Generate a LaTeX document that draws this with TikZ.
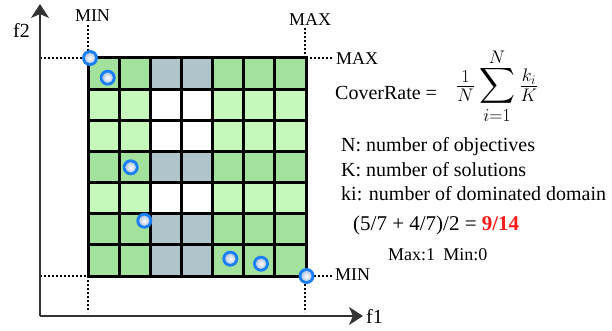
\RequirePackage{fix-cm}
\documentclass[tikz,border=0pt]{standalone}
\usepackage{exscale}
\usepackage{fontspec}
\setmainfont{Liberation Serif}
\usetikzlibrary{arrows.meta}
\definecolor{c00}{HTML}{A3E29D}
\definecolor{c01}{HTML}{B0C4CC}
\definecolor{c10}{HTML}{C6F8BC}
\definecolor{c11}{HTML}{FFFFFF}
\definecolor{dotblue}{HTML}{1A7FF5}
\definecolor{dotin}{HTML}{8FAAD0}
\definecolor{hired}{HTML}{FF1A1A}
\definecolor{axisgray}{HTML}{333333}
\begin{document}
\begin{tikzpicture}[x=1pt,y=-1pt,
  txt/.style={font=\fontsize{20}{24}\selectfont, inner sep=0pt, anchor=base west},
  lbl/.style={font=\fontsize{18}{22}\selectfont, inner sep=0pt},
  dotline/.style={line width=1.8pt, dash pattern=on 1.8pt off 2.2pt},
  gridline/.style={line width=3pt, black},
  axisline/.style={line width=1.1pt, axisgray, -{Stealth[length=14pt,width=18pt,inset=4pt]}},
  sol/.style={circle, inner sep=0pt, minimum size=16pt, fill=dotblue,
    path picture={\shade[inner color=white, outer color=dotin] (path picture bounding box.center) circle (5.2pt);}}
]
\useasboundingbox (0,0) rectangle (612,331);
% reference coordinates
\coordinate (O) at (40,316);
\coordinate (TL) at (88,58);
\coordinate (BR) at (306,276);
% dotted guide lines
\draw[dotline] (40,58) -- (88,58);
\draw[dotline] (40,276) -- (88,276);
\draw[dotline] (306,58) -- (333,58);
\draw[dotline] (306,276) -- (332,276);
\draw[dotline] (88,25) -- (88,58);
\draw[dotline] (88,276) -- (88,312);
\draw[dotline] (305,28) -- (305,58);
\draw[dotline] (305,276) -- (305,312);
% cells
\foreach \j/\rt in {0/0,1/1,2/1,3/0,4/1,5/0,6/0}{
  \foreach \i/\ct in {0/0,1/0,2/1,3/1,4/0,5/0,6/0}{
    \pgfmathsetmacro{\xa}{88+\i*31.143}
    \pgfmathsetmacro{\ya}{58+\j*31.143}
    \edef\cname{c\rt\ct}
    \fill[fill=\cname] (\xa,\ya) rectangle ++(31.143,31.143);
  }
}
% grid lines
\foreach \k in {1,...,6}{
  \pgfmathsetmacro{\xx}{88+\k*31.143}
  \draw[gridline] (\xx,58) -- (\xx,276);
  \draw[gridline] (88,\xx-30) -- (306,\xx-30);
}
\draw[gridline] (TL) rectangle (BR);
% axes
\draw[axisline] (O) -- (40,4);
\draw[axisline] (O) -- (363,316);
\node[txt] (f2) at (13,38) {f2};
\node[txt] (f1) at (366,323) {f1};
% guide labels
\node[lbl, anchor=base] (minT) at (92.5,22) {MIN};
\node[lbl, anchor=base] (maxT) at (310,26) {MAX};
\node[lbl, anchor=base west] (maxR) at (336,65) {MAX};
\node[lbl, anchor=base west] (minR) at (335,280) {MIN};
% solutions
\node[sol] (s1) at (90,58) {};
\node[sol] (s2) at (107.7,77.7) {};
\node[sol] (s3) at (130.7,167.3) {};
\node[sol] (s4) at (144.3,220.7) {};
\node[sol] (s5) at (230.3,258.7) {};
\node[sol] (s6) at (261,263.7) {};
\node[sol] (s7) at (306.5,276) {};
% text
\node[txt] (cr) at (335,100) {CoverRate =};
\node[inner sep=0pt, anchor=base west, font=\fontsize{26}{30}\selectfont] (eq) at (456,92.5)
  {$\textstyle\frac{1}{N}\displaystyle\sum_{i=1}^{\raisebox{-4pt}[0pt][0pt]{$\scriptstyle N$}}\textstyle\frac{k_i}{K}$};
\node[txt] (tN) at (341,151) {N: number of objectives};
\node[txt] (tK) at (341,176) {K: number of solutions};
\node[txt] (tk) at (341,200) {ki: number of dominated domain};
\node[txt, font=\fontsize{21}{25}\selectfont] (calc) at (353,230) {(5/7 + 4/7)/2 = \textcolor{hired}{\textbf{9/14}}};
\node[txt, font=\fontsize{18}{22}\selectfont] (mm) at (388,260) {Max:1\hspace{0.45em}Min:0};
\end{tikzpicture}
\end{document}
